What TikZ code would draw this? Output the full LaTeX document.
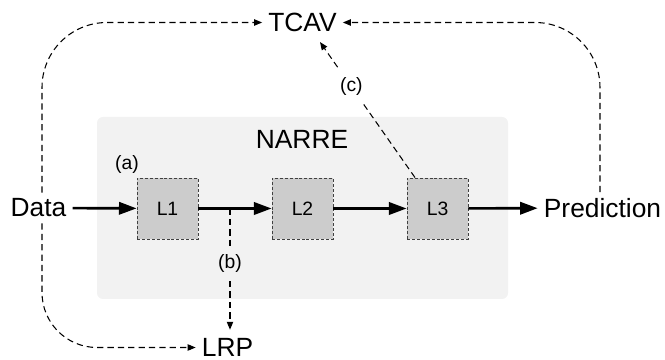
\documentclass[tikz,border=0pt]{standalone}
\usepackage{fontspec}
\setmainfont{Liberation Sans}
\usetikzlibrary{arrows.meta}

\begin{document}
\begin{tikzpicture}[
    big/.style={font=\fontsize{15}{18}\selectfont},
    small/.style={font=\fontsize{11}{13}\selectfont},
    layer/.style={small, draw=black!75, line width=0.5pt, dash pattern=on 1.7pt off 1.1pt,
        fill=black!20, minimum size=1.22cm, inner sep=0pt},
    flow/.style={line width=1.5pt, -{Triangle[length=10pt,width=7pt]}},
    probe/.style={line width=0.6pt, dash pattern=on 3.6pt off 2.3pt,
        -{Triangle[length=4.5pt,width=3.6pt]}},
    tag/.style={small, inner sep=0.15cm},
]
\useasboundingbox (0,0) rectangle (13.3,-7.2);
% model panel
\fill[black!5, rounded corners=0.12cm] (1.94,-2.34) rectangle (10.16,-5.98);
\node[big] (narre) at (6.04,-2.78){NARRE};
\node[big] (data) at (0.77,-4.16){Data};
\node[big] (pred) at (12.05,-4.16){Prediction};
\node[big] (tcav) at (6.05,-0.45){TCAV};
\node[big] (lrp) at (4.55,-6.95){LRP};
\node[layer] (l1) at (3.35,-4.17){L1};
\node[layer] (l2) at (6.05,-4.17){L2};
\node[layer] (l3) at (8.75,-4.17){L3};
\node[small] (a) at (2.54,-3.3){(a)};
\coordinate (split) at (4.6,-4.17);
% forward pass
\draw[flow] (data) -- (l1);
\draw[flow] (l1) -- (l2);
\draw[flow] (l2) -- (l3);
\draw[flow] (l3) -- (pred);
% explanation paths
\draw[probe] (split) -- node[tag, pos=0.45, fill=black!5]{(b)} ([xshift=0.05cm,yshift=0.05cm]lrp.north);
\draw[probe] ([xshift=-0.45cm]l3.north) -- node[tag, pos=0.67, fill=white]{(c)} ([xshift=0.35cm,yshift=-0.08cm]tcav.south);
\draw[probe, rounded corners=1.3cm] ([xshift=0.07cm]data.north) |- (tcav.west);
\draw[probe, rounded corners=1.1cm] ([xshift=0.07cm]data.south) |- (lrp.west);
\draw[probe, rounded corners=1.3cm] ([xshift=-0.05cm]pred.north) |- (tcav.east);
\end{tikzpicture}
\end{document}
